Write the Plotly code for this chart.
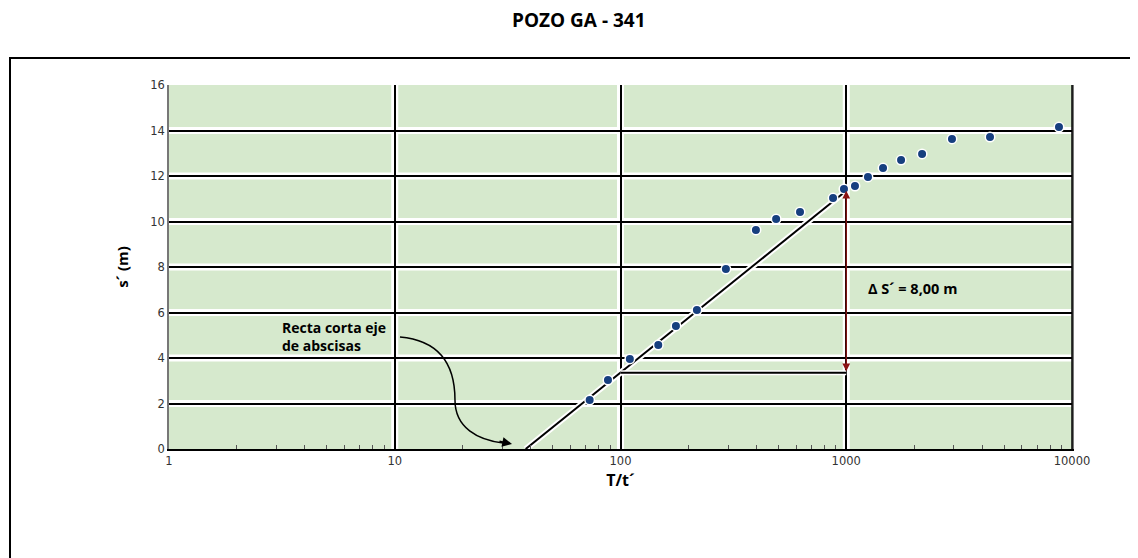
import math
import plotly.graph_objects as go

# ---- data ----
t_ratio = [73, 88, 110, 147, 176, 218, 293, 398, 489, 624, 874, 977, 1093,
           1248, 1455, 1749, 2167, 2940, 4333, 8757]
s_prime = [2.15, 3.03, 3.96, 4.57, 5.41, 6.11, 7.91, 9.63, 10.11, 10.42, 11.03,
           11.43, 11.56, 11.96, 12.35, 12.70, 12.97, 13.63, 13.71, 14.15]
trend_x = [38, 1000]
trend_y = [0, 11.35]
delta_x = [100, 1000]
delta_y = [3.35, 11.35]
x_ticks = [1, 10, 100, 1000, 10000]
x_tick_labels = ["1", "10", "100", "1000", "10000"]
x_minor = [m * d for d in (1, 10, 100, 1000) for m in range(2, 10)]
y_ticks = [0, 2, 4, 6, 8, 10, 12, 14, 16]

OFF = 8  # page body margin of the html
W, H = 1138, 558
L, R, T, B = 169 - OFF, 1138 - (1072 - OFF), 85 - OFF, 558 - (449 - OFF)
pw, ph = W - L - R, H - T - B


def px(xp):
    return (xp - OFF - L) / pw


def py(yp):
    return (H - B - (yp - OFF)) / ph


fig = go.Figure()

# white halo under trend line
fig.add_trace(go.Scatter(x=trend_x, y=trend_y, mode="lines",
                         line=dict(color="white", width=6), hoverinfo="skip",
                         showlegend=False))
fig.add_trace(go.Scatter(x=trend_x, y=trend_y, mode="lines",
                         line=dict(color="black", width=2), showlegend=False))
# horizontal reference line at 100..1000
fig.add_trace(go.Scatter(x=delta_x, y=[delta_y[0], delta_y[0]], mode="lines",
                         line=dict(color="white", width=5), hoverinfo="skip",
                         showlegend=False))
fig.add_trace(go.Scatter(x=delta_x, y=[delta_y[0], delta_y[0]], mode="lines",
                         line=dict(color="black", width=2), showlegend=False))
# data points
fig.add_trace(go.Scatter(x=t_ratio, y=s_prime, mode="markers",
                         marker=dict(color="#163f7f", size=9.5,
                                     line=dict(color="white", width=1.5)),
                         showlegend=False))

shapes = []
# white glow under grid lines
for xv in x_ticks[1:-1]:
    shapes.append(dict(type="line", xref="x", yref="paper",
                       x0=xv, x1=xv, y0=0, y1=1,
                       line=dict(color="white", width=7), layer="below"))
for yv in y_ticks[1:-1]:
    shapes.append(dict(type="line", xref="paper", yref="y",
                       x0=0, x1=1, y0=yv, y1=yv,
                       line=dict(color="white", width=7), layer="below"))
# right border of plot area (black)
shapes.append(dict(type="line", xref="paper", yref="paper", x0=1, x1=1, y0=0, y1=1,
                   line=dict(color="black", width=1.5)))
# outer frame
shapes.append(dict(type="rect", xref="paper", yref="paper",
                   x0=px(10), x1=px(1146), y0=py(570), y1=py(58),
                   line=dict(color="black", width=2), fillcolor="rgba(0,0,0,0)"))
# curved arrow path
path = "M {:.4f},{:.4f} C {:.4f},{:.4f} {:.4f},{:.4f} {:.4f},{:.4f} C {:.4f},{:.4f} {:.4f},{:.4f} {:.4f},{:.4f}".format(
    px(400), py(337), px(445), py(341), px(455), py(372), px(455), py(400),
    px(455), py(428), px(478), py(440), px(503), py(443))
shapes.append(dict(type="path", xref="paper", yref="paper", path=path,
                   line=dict(color="black", width=1.5)))

annotations = [
    dict(x=px(579), y=py(20), xref="paper", yref="paper", yanchor="middle",
         xanchor="center", showarrow=False, text="<b>POZO GA - 341</b>",
         font=dict(family="Open Sans", size=19, color="black")),
    dict(x=math.log10(1220), y=7.05, xref="x", yref="y", xanchor="left",
         showarrow=False, text="<b>Δ S´ = 8,00 m</b>",
         font=dict(family="Open Sans", size=14.5, color="black")),
    dict(x=px(280), y=py(336), xref="paper", yref="paper", xanchor="left",
         yanchor="middle", align="left", showarrow=False,
         text="<b>Recta corta eje<br>de abscisas</b>",
         font=dict(family="Open Sans", size=14, color="black")),
    # arrow head of curved arrow
    dict(x=px(512), y=py(444), xref="paper", yref="paper", text="",
         showarrow=True, ax=-14, ay=-3, arrowhead=2, arrowsize=1.3,
         arrowwidth=1.5, arrowcolor="black"),
    # delta s double arrow
    dict(x=math.log10(delta_x[1]), y=delta_y[1], xref="x", yref="y",
         ax=math.log10(delta_x[1]), ay=delta_y[0], axref="x", ayref="y",
         text="", showarrow=True, arrowhead=2, startarrowhead=2,
         arrowside="end+start", arrowsize=1.2, startarrowsize=1.2,
         arrowwidth=1.3, arrowcolor="#8b1414"),
]

fig.update_layout(
    width=W, height=H,
    margin=dict(l=L, r=R, t=T, b=B),
    paper_bgcolor="white",
    plot_bgcolor="#d6e9cd",
    shapes=shapes,
    annotations=annotations,
    xaxis=dict(type="log", range=[0, 4], tickvals=x_ticks, ticktext=x_tick_labels,
               showgrid=True, gridcolor="black", gridwidth=1.5,
               showline=True, linecolor="black", linewidth=1.5, mirror=False,
               ticks="", zeroline=False,
               minor=dict(tickvals=x_minor, ticks="inside", ticklen=4,
                          tickcolor="#555", showgrid=False),
               tickfont=dict(family="DejaVu Sans", size=11.5, color="#333"),
               title=dict(text="<b>T/t´</b>", standoff=8,
                          font=dict(family="Open Sans", size=16, color="black"))),
    yaxis=dict(range=[0, 16], tickvals=y_ticks, showgrid=True, gridcolor="black",
               gridwidth=1.5, showline=True, linecolor="#777", linewidth=1.5,
               mirror=True, ticks="", zeroline=False,
               tickfont=dict(family="DejaVu Sans", size=11.5, color="#333"),
               title=dict(text="<b>s´ (m)</b>", standoff=18,
                          font=dict(family="Open Sans", size=15, color="black"))),
)

fig.write_html("out.html")
